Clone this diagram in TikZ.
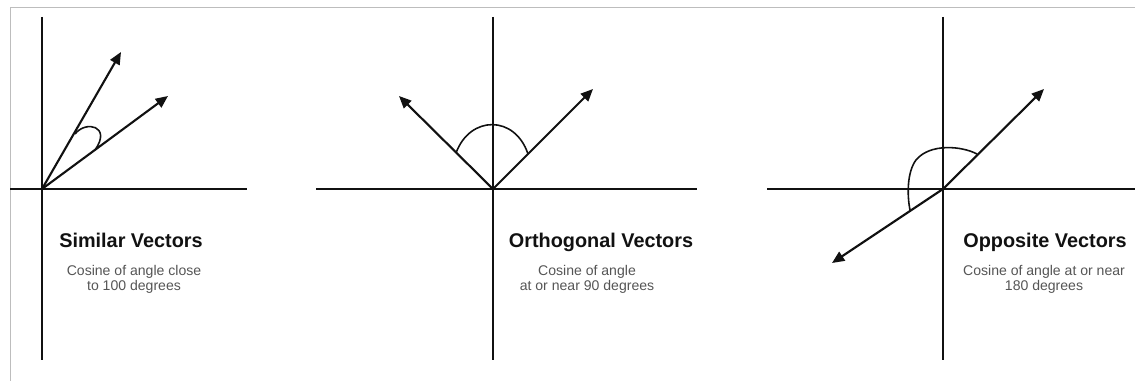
\documentclass[tikz,border=0pt]{standalone}
\usepackage{fontspec}
\setmainfont{Liberation Sans}
\usetikzlibrary{arrows.meta, positioning}
\definecolor{inkBlack}{HTML}{111111}
\definecolor{noteGray}{HTML}{555555}
\definecolor{frameGray}{HTML}{BDBDBD}

\begin{document}
\begin{tikzpicture}[
    x=0.02cm, y=-0.02cm,
    axis/.style={line width=1.2pt, inkBlack},
    vec/.style={-{Triangle[length=7pt, width=6pt]}, line width=1.2pt, inkBlack},
    angarc/.style={line width=0.9pt, inkBlack},
    vtitle/.style={font=\fontsize{11.3}{13}\selectfont\bfseries, inkBlack, anchor=base},
    vnote/.style={font=\fontsize{8}{8.8}\selectfont, noteGray, align=center, anchor=north}
  ]
    \useasboundingbox (0,0) rectangle (1135,381);
    \draw[frameGray, line width=0.5pt] (10,381) -- (10,7) -- (1135,7);

    % similar vectors
    \coordinate (o1) at (42,189);
    \coordinate (a1) at (121,52);
    \coordinate (b1) at (168,96);
    \draw[axis] (42,17) -- (42,360);
    \draw[axis] (10,189) -- (247,189);
    \draw[vec] (o1) -- (a1);
    \draw[vec] (o1) -- (b1);
    \draw[angarc] (75,134) .. controls (86,120) and (112,126) .. (95,150);
    \node[vtitle] (t1) at (131,248) {Similar Vectors};
    \node[vnote] (n1) at (134,259) {Cosine of angle close\\to 100 degrees};

    % orthogonal vectors
    \coordinate (o2) at (493,189);
    \coordinate (a2) at (399,96);
    \coordinate (b2) at (593,89);
    \draw[axis] (493,17) -- (493,360);
    \draw[axis] (316,189) -- (697,189);
    \draw[vec] (o2) -- (a2);
    \draw[vec] (o2) -- (b2);
    \draw[angarc] (456,153) .. controls (470,115) and (515,115) .. (528,154);
    \node[vtitle] (t2) at (601,248) {Orthogonal Vectors};
    \node[vnote] (n2) at (587,259) {Cosine of angle\\at or near 90 degrees};

    % opposite vectors
    \coordinate (o3) at (943,189);
    \coordinate (a3) at (1044,89);
    \coordinate (b3) at (832,263);
    \draw[axis] (943,17) -- (943,360);
    \draw[axis] (767,189) -- (1135,189);
    \draw[vec] (o3) -- (a3);
    \draw[vec] (o3) -- (b3);
    \draw[angarc] (977,154) .. controls (962,146) and (930,143) .. (916,160)
                            .. controls (907,172) and (907,195) .. (910,210);
    \node[vtitle] (t3) at (1045,248) {Opposite Vectors};
    \node[vnote] (n3) at (1044,259) {Cosine of angle at or near\\180 degrees};
  \end{tikzpicture}
\end{document}
